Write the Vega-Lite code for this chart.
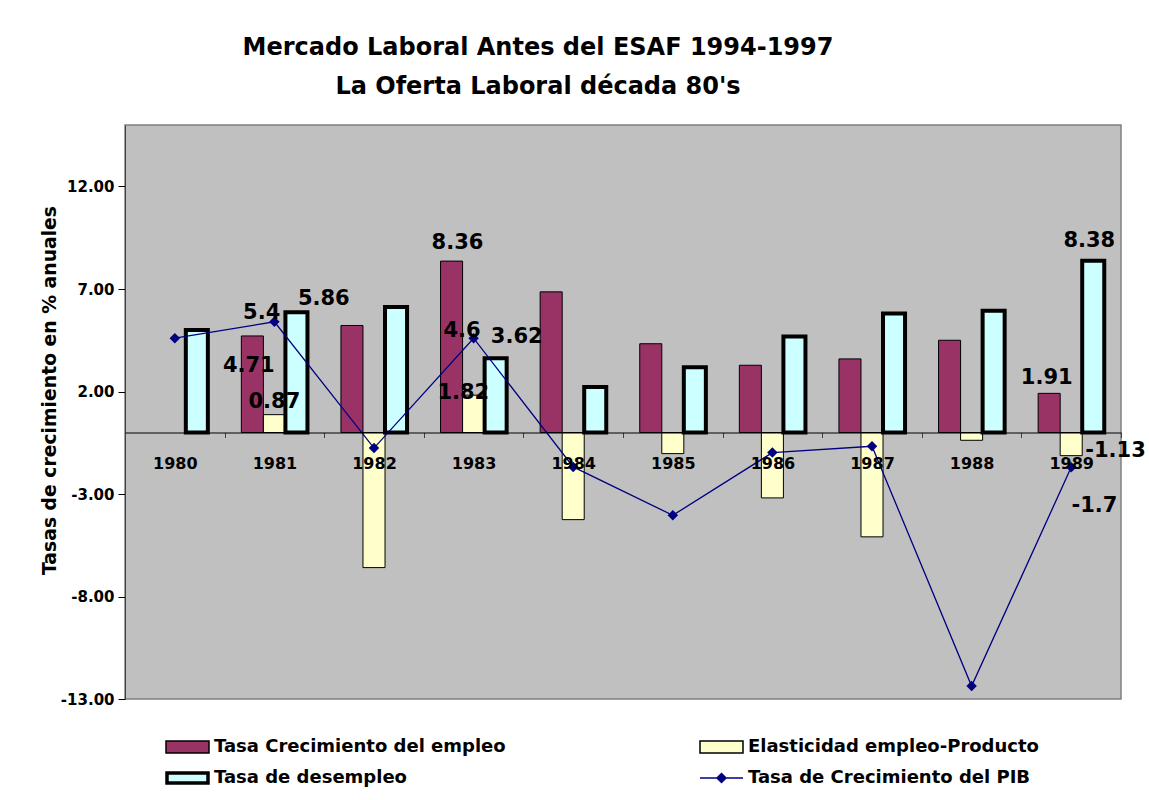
{
  "$schema": "https://vega.github.io/schema/vega-lite/v6.json",
  "width": 996,
  "height": 574,
  "autosize": {"type": "none"},
  "padding": {"left": 125, "top": 125, "right": 28, "bottom": 101},
  "background": "white",
  "config": {
    "font": "DejaVu Sans",
    "view": {"fill": "#C0C0C0", "stroke": "#808080", "strokeWidth": 1.5},
    "text": {"font": "DejaVu Sans", "fontSize": 21, "fontWeight": "bold", "baseline": "alphabetic", "align": "center", "color": "black"},
    "legend": {
      "orient": "none", "legendX": 51.5, "legendY": 611,
      "columns": 2, "direction": "horizontal",
      "labelFont": "DejaVu Sans", "labelFontSize": 18, "labelFontWeight": "bold", "labelColor": "black",
      "symbolSize": 400, "labelOffset": 15.5, "columnPadding": 190, "rowPadding": 11, "padding": 0, "labelLimit": 0,
      "symbolOpacity": 1
    }
  },
  "title": {
    "text": ["Mercado Laboral Antes del ESAF 1994-1997", "La Oferta Laboral década 80's"],
    "font": "DejaVu Sans",
    "fontSize": 24,
    "fontWeight": "bold",
    "color": "black",
    "anchor": "middle",
    "frame": "group",
    "dx": -85,
    "baseline": "bottom",
    "offset": 2,
    "lineHeight": 39
  },
  "data": {
    "values": [
      {"anio": "1980", "serie": "Tasa de desempleo", "valor": 5.0},
      {"anio": "1980", "serie": "Tasa de Crecimiento del PIB", "valor": 4.6},
      {"anio": "1981", "serie": "Tasa Crecimiento del empleo", "valor": 4.71},
      {"anio": "1981", "serie": "Elasticidad empleo-Producto", "valor": 0.87},
      {"anio": "1981", "serie": "Tasa de desempleo", "valor": 5.86},
      {"anio": "1981", "serie": "Tasa de Crecimiento del PIB", "valor": 5.4},
      {"anio": "1982", "serie": "Tasa Crecimiento del empleo", "valor": 5.22},
      {"anio": "1982", "serie": "Elasticidad empleo-Producto", "valor": -6.59},
      {"anio": "1982", "serie": "Tasa de desempleo", "valor": 6.12},
      {"anio": "1982", "serie": "Tasa de Crecimiento del PIB", "valor": -0.76},
      {"anio": "1983", "serie": "Tasa Crecimiento del empleo", "valor": 8.36},
      {"anio": "1983", "serie": "Elasticidad empleo-Producto", "valor": 1.82},
      {"anio": "1983", "serie": "Tasa de desempleo", "valor": 3.62},
      {"anio": "1983", "serie": "Tasa de Crecimiento del PIB", "valor": 4.6},
      {"anio": "1984", "serie": "Tasa Crecimiento del empleo", "valor": 6.86},
      {"anio": "1984", "serie": "Elasticidad empleo-Producto", "valor": -4.25},
      {"anio": "1984", "serie": "Tasa de desempleo", "valor": 2.22},
      {"anio": "1984", "serie": "Tasa de Crecimiento del PIB", "valor": -1.68},
      {"anio": "1985", "serie": "Tasa Crecimiento del empleo", "valor": 4.33},
      {"anio": "1985", "serie": "Elasticidad empleo-Producto", "valor": -1.03},
      {"anio": "1985", "serie": "Tasa de desempleo", "valor": 3.18},
      {"anio": "1985", "serie": "Tasa de Crecimiento del PIB", "valor": -4.04},
      {"anio": "1986", "serie": "Tasa Crecimiento del empleo", "valor": 3.28},
      {"anio": "1986", "serie": "Elasticidad empleo-Producto", "valor": -3.19},
      {"anio": "1986", "serie": "Tasa de desempleo", "valor": 4.68},
      {"anio": "1986", "serie": "Tasa de Crecimiento del PIB", "valor": -0.98},
      {"anio": "1987", "serie": "Tasa Crecimiento del empleo", "valor": 3.59},
      {"anio": "1987", "serie": "Elasticidad empleo-Producto", "valor": -5.09},
      {"anio": "1987", "serie": "Tasa de desempleo", "valor": 5.8},
      {"anio": "1987", "serie": "Tasa de Crecimiento del PIB", "valor": -0.67},
      {"anio": "1988", "serie": "Tasa Crecimiento del empleo", "valor": 4.5},
      {"anio": "1988", "serie": "Elasticidad empleo-Producto", "valor": -0.38},
      {"anio": "1988", "serie": "Tasa de desempleo", "valor": 5.94},
      {"anio": "1988", "serie": "Tasa de Crecimiento del PIB", "valor": -12.37},
      {"anio": "1989", "serie": "Tasa Crecimiento del empleo", "valor": 1.91},
      {"anio": "1989", "serie": "Elasticidad empleo-Producto", "valor": -1.13},
      {"anio": "1989", "serie": "Tasa de desempleo", "valor": 8.38},
      {"anio": "1989", "serie": "Tasa de Crecimiento del PIB", "valor": -1.7}
    ]
  },
  "layer": [
    {
      "transform": [{"filter": "datum.serie !== 'Tasa de Crecimiento del PIB'"}],
      "mark": {"type": "bar", "orient": "vertical"},
      "encoding": {
        "x": {
          "field": "anio", "type": "ordinal", "title": null,
          "scale": {"paddingInner": 0, "paddingOuter": 0},
          "axis": {
            "title": null, "offset": -266.5, "domainColor": "black", "domainWidth": 1,
            "tickBand": "extent", "tickColor": "#404040", "tickSize": 5,
            "labelFont": "DejaVu Sans", "labelFontWeight": "bold", "labelFontSize": 16,
            "labelColor": "black", "labelPadding": 18, "labelAngle": 0, "zindex": 1
          }
        },
        "xOffset": {
          "field": "serie", "type": "nominal",
          "scale": {"domain": ["Tasa Crecimiento del empleo", "Elasticidad empleo-Producto", "Tasa de desempleo"], "paddingInner": 0, "paddingOuter": 0.76}
        },
        "y": {
          "field": "valor", "type": "quantitative", "title": "Tasas de crecimiento en % anuales",
          "scale": {"domain": [-13, 15], "nice": false},
          "axis": {
            "values": [-13, -8, -3, 2, 7, 12],
            "labelExpr": "replace(format(datum.value, '.2f'), '\u2212', '-')",
            "grid": false,
            "labelFont": "DejaVu Sans", "labelFontSize": 15, "labelFontWeight": "bold", "labelColor": "black",
            "tickColor": "black", "tickSize": 7, "labelPadding": 4, "domainColor": "#404040",
            "titleFont": "DejaVu Sans", "titleFontSize": 18.8, "titleFontWeight": "bold", "titleColor": "black",
            "titleX": -70, "titleY": 265, "titleAngle": -90, "titleBaseline": "alphabetic", "titleAlign": "center"
          }
        },
        "color": {
          "field": "serie", "type": "nominal",
          "scale": {
            "domain": ["Tasa Crecimiento del empleo", "Elasticidad empleo-Producto", "Tasa de desempleo", "Tasa de Crecimiento del PIB"],
            "range": ["#993366", "#FFFFCC", "#CCFFFF", "#000080"]
          },
          "legend": {"title": null}
        },
        "stroke": {
          "field": "serie", "type": "nominal",
          "scale": {
            "domain": ["Tasa Crecimiento del empleo", "Elasticidad empleo-Producto", "Tasa de desempleo", "Tasa de Crecimiento del PIB"],
            "range": ["#000000", "#000000", "#000000", "#000080"]
          },
          "legend": {"title": null}
        },
        "strokeWidth": {"condition": {"test": "datum.serie === 'Tasa de desempleo'", "value": 4}, "value": 1}
      }
    },
    {
      "transform": [{"filter": "datum.serie === 'Tasa de Crecimiento del PIB'"}],
      "mark": {"type": "line", "color": "#000080", "strokeWidth": 1.3, "point": {"shape": "diamond", "filled": true, "size": 110, "color": "#000080"}},
      "encoding": {
        "x": {"field": "anio", "type": "ordinal", "title": null},
        "y": {"field": "valor", "type": "quantitative", "title": "Tasas de crecimiento en % anuales"}
      }
    },
    {
      "transform": [{"filter": "datum.serie === 'Tasa de Crecimiento del PIB'"}],
      "mark": {"type": "point", "opacity": 0},
      "encoding": {
        "x": {"field": "anio", "type": "ordinal", "title": null},
        "y": {"field": "valor", "type": "quantitative", "title": "Tasas de crecimiento en % anuales"},
        "shape": {
          "field": "serie", "type": "nominal",
          "scale": {
            "domain": ["Tasa Crecimiento del empleo", "Elasticidad empleo-Producto", "Tasa de desempleo", "Tasa de Crecimiento del PIB"],
            "range": [
              "M-2.15,-0.6H2.15V0.6H-2.15Z",
              "M-2.15,-0.6H2.15V0.6H-2.15Z",
              "M-2.15,-0.6H2.15V0.6H-2.15ZM-2.08,-0.53H2.08V0.53H-2.08ZM-2.01,-0.46H2.01V0.46H-2.01ZM-1.95,-0.4H1.95V0.4H-1.95Z",
              "M-2.15,0H2.15M0,-0.45L0.45,0L0,0.45L-0.45,0Z"
            ]
          },
          "legend": {"title": null}
        }
      }
    },
    {
      "encoding": {
        "x": {"field": "anio", "type": "ordinal", "title": null},
        "y": {"field": "valor", "type": "quantitative", "title": "Tasas de crecimiento en % anuales"},
        "text": {"field": "valor", "type": "nominal"}
      },
      "layer": [
        {"transform": [{"filter": "datum.anio === '1981' && datum.serie === 'Tasa de Crecimiento del PIB'"}], "mark": {"type": "text", "dx": -12.7, "dy": -2.4}},
        {"transform": [{"filter": "datum.anio === '1981' && datum.serie === 'Tasa Crecimiento del empleo'"}], "mark": {"type": "text", "dx": -25.6, "dy": 35.9}},
        {"transform": [{"filter": "datum.anio === '1981' && datum.serie === 'Elasticidad empleo-Producto'"}], "mark": {"type": "text", "dx": 0, "dy": -6.2}},
        {"transform": [{"filter": "datum.anio === '1981' && datum.serie === 'Tasa de desempleo'"}], "mark": {"type": "text", "dx": 49.4, "dy": -7.2}},
        {"transform": [{"filter": "datum.anio === '1983' && datum.serie === 'Tasa Crecimiento del empleo'"}], "mark": {"type": "text", "dx": -16.1, "dy": -11.7}},
        {"transform": [{"filter": "datum.anio === '1983' && datum.serie === 'Tasa de Crecimiento del PIB'"}], "mark": {"type": "text", "dx": -11.6, "dy": -1.3}},
        {"transform": [{"filter": "datum.anio === '1983' && datum.serie === 'Elasticidad empleo-Producto'"}], "mark": {"type": "text", "dx": -10.3, "dy": 4.3}},
        {"transform": [{"filter": "datum.anio === '1983' && datum.serie === 'Tasa de desempleo'"}], "mark": {"type": "text", "dx": 43.1, "dy": -14.8}},
        {"transform": [{"filter": "datum.anio === '1989' && datum.serie === 'Tasa Crecimiento del empleo'"}], "mark": {"type": "text", "dx": -24.5, "dy": -9.2}},
        {"transform": [{"filter": "datum.anio === '1989' && datum.serie === 'Tasa de desempleo'"}], "mark": {"type": "text", "dx": 18.1, "dy": -13.3}},
        {"transform": [{"filter": "datum.anio === '1989' && datum.serie === 'Elasticidad empleo-Producto'"}], "mark": {"type": "text", "dx": 44.3, "dy": 1.8}},
        {"transform": [{"filter": "datum.anio === '1989' && datum.serie === 'Tasa de Crecimiento del PIB'"}], "mark": {"type": "text", "dx": 23.2, "dy": 44.6}}
      ]
    }
  ]
}
